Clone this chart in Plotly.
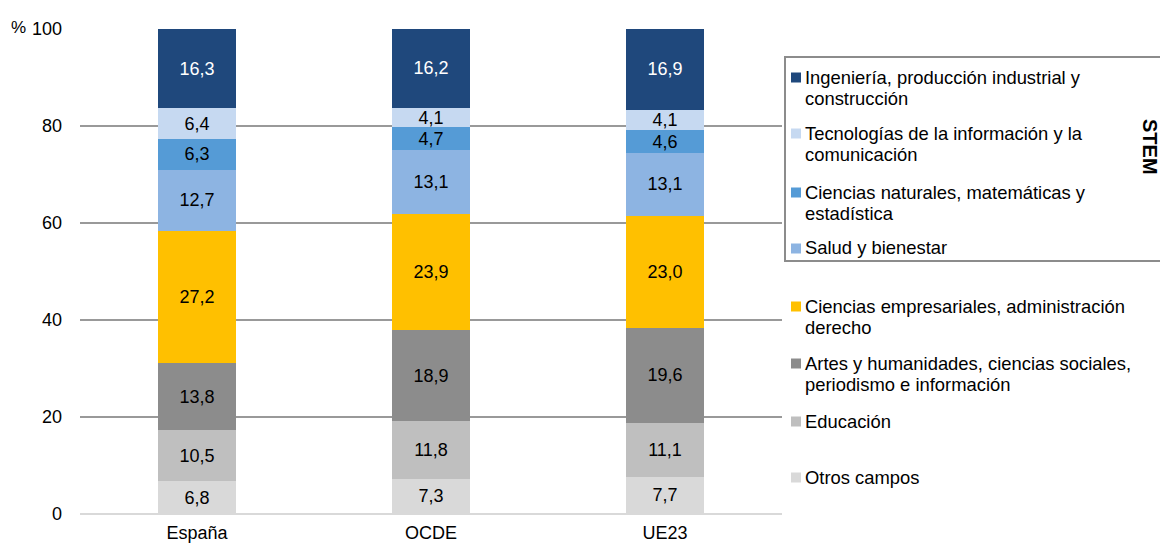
import plotly.graph_objects as go

categories = ["España", "OCDE", "UE23"]
series_names = [
    "Otros campos",
    "Educación",
    "Artes y humanidades, ciencias sociales, periodismo e información",
    "Ciencias empresariales, administración derecho",
    "Salud y bienestar",
    "Ciencias naturales, matemáticas y estadística",
    "Tecnologías de la información y la comunicación",
    "Ingeniería, producción industrial y construcción",
]
otros = [6.8, 7.3, 7.7]
educacion = [10.5, 11.8, 11.1]
artes = [13.8, 18.9, 19.6]
empresariales = [27.2, 23.9, 23.0]
salud = [12.7, 13.1, 13.1]
naturales = [6.3, 4.7, 4.6]
tic = [6.4, 4.1, 4.1]
ingenieria = [16.3, 16.2, 16.9]
values = [otros, educacion, artes, empresariales, salud, naturales, tic, ingenieria]

colors = ["#d9d9d9", "#bfbfbf", "#8c8c8c", "#ffc000", "#8db4e2", "#559bd6", "#c6d9f1", "#1f487c"]
text_colors = ["#000000"] * 7 + ["#ffffff"]

legend_lines = [
    ["Ingeniería, producción industrial y", "construcción"],
    ["Tecnologías de la información y la", "comunicación"],
    ["Ciencias naturales, matemáticas y", "estadística"],
    ["Salud y bienestar"],
    ["Ciencias empresariales, administración", "derecho"],
    ["Artes y humanidades, ciencias sociales,", "periodismo e información"],
    ["Educación"],
    ["Otros campos"],
]
legend_colors = colors[::-1]
legend_y = [77, 133, 192, 248, 306, 363, 421, 477]

FONT = "Liberation Sans, Arial, sans-serif"
FS = 18
OFF = 8  # page body margin
W, H = 1168 - OFF, 545 - OFF
PX0, PX1, PY0, PY1 = 80, 782, 29, 514  # plot area in page pixels


def px(xp):
    return (xp - PX0) / (PX1 - PX0)


def py(yp):
    return (PY1 - yp) / (PY1 - PY0)


fig = go.Figure()
for name, vals, col, tcol in zip(series_names, values, colors, text_colors):
    fig.add_trace(go.Bar(
        x=categories, y=vals, name=name,
        marker=dict(color=col, line=dict(width=0)),
        text=[f"{v:.1f}".replace(".", ",") for v in vals],
        textposition="inside", insidetextanchor="middle", textangle=0,
        textfont=dict(color=tcol, size=FS, family=FONT),
        showlegend=False,
    ))

annotations = []
shapes = []

for lines, col, y0 in zip(legend_lines, legend_colors, legend_y):
    shapes.append(dict(type="rect", xref="paper", yref="paper",
                       x0=px(791), x1=px(801), y0=py(y0 + 5.5), y1=py(y0 - 4.5),
                       fillcolor=col, line=dict(width=0), layer="above"))
    for i, ln in enumerate(lines):
        annotations.append(dict(text=ln, xref="paper", yref="paper",
                                x=px(803), y=py(y0 + i * 21.5), xanchor="left", yanchor="middle",
                                showarrow=False, font=dict(size=18.4, color="#000", family=FONT)))

# STEM box
shapes.append(dict(type="rect", xref="paper", yref="paper",
                   x0=px(785), x1=px(1180), y0=py(261), y1=py(57),
                   line=dict(color="#8c8c8c", width=2), fillcolor="rgba(0,0,0,0)"))
annotations.append(dict(text="<b>STEM</b>", xref="paper", yref="paper",
                        x=px(1150), y=py(147), textangle=90, showarrow=False,
                        xanchor="center", yanchor="middle",
                        font=dict(size=20, color="#000", family=FONT)))
annotations.append(dict(text="%", xref="paper", yref="paper",
                        x=px(9), y=py(27), xanchor="left", yanchor="middle",
                        showarrow=False, font=dict(size=17, color="#000", family=FONT)))

fig.update_layout(
    width=W, height=H,
    barmode="stack", bargap=0.667,
    margin=dict(l=PX0 - OFF, r=1168 - PX1, t=PY0 - OFF, b=545 - PY1, pad=0, autoexpand=False),
    plot_bgcolor="white", paper_bgcolor="white",
    font=dict(family=FONT, size=FS, color="#000"),
    uniformtext=dict(minsize=FS, mode="show"),
    xaxis=dict(showgrid=False, showline=False, ticks="", tickfont=dict(size=FS),
               ticklabelstandoff=6, automargin=False),
    yaxis=dict(range=[0, 100], dtick=20, showgrid=True, gridcolor="#999999", gridwidth=1.5,
               zeroline=True, zerolinecolor="#d9d9d9", zerolinewidth=2, showline=False,
               ticks="", tickfont=dict(size=FS), ticklabelstandoff=17, automargin=False),
    annotations=annotations, shapes=shapes,
)

fig.write_html("out.html")
